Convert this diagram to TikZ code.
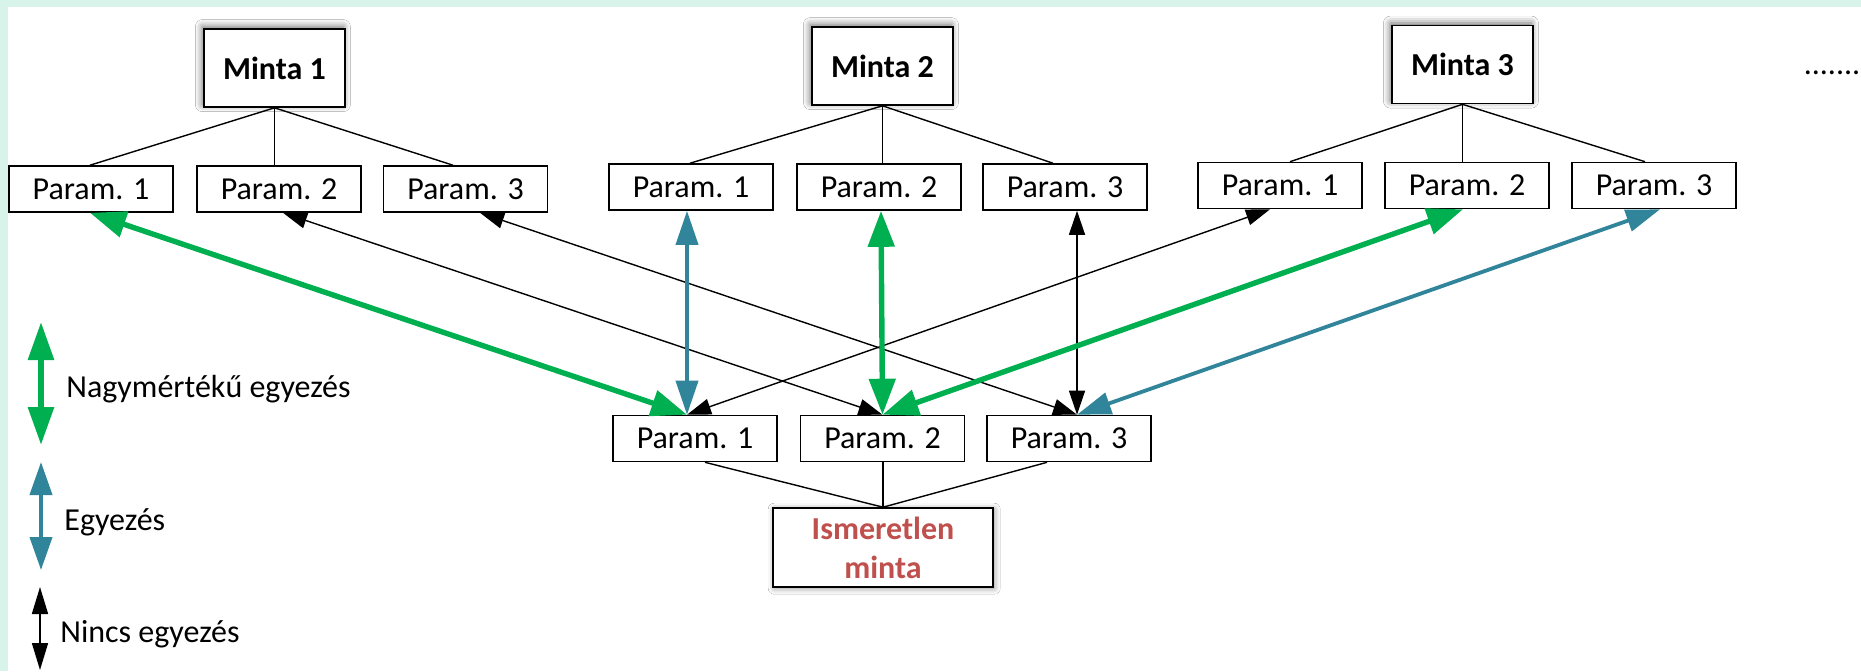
\documentclass[tikz,border=0pt]{standalone}
\usepackage{fontspec}
\setmainfont{Carlito}
\usetikzlibrary{arrows.meta,calc,shadows.blur}
\definecolor{mgreen}{RGB}{0,176,80}
\definecolor{mblue}{RGB}{49,133,155}
\definecolor{mred}{RGB}{192,80,77}
\definecolor{mint}{RGB}{216,243,234}
\begin{document}
\begin{tikzpicture}[x=0.5pt,y=-0.5pt,
  box/.style={draw=black, line width=0.8pt, fill=white, inner sep=0pt,
    font=\fontsize{16}{19.5}\selectfont},
  parbox/.style={box, minimum width=82pt, minimum height=23pt},
  minta/.style={box, minimum width=70.5pt, minimum height=39pt,
    font=\fontsize{16}{19.5}\selectfont\bfseries,
    blur shadow={shadow xshift=-0.8pt, shadow yshift=1.2pt, shadow blur radius=3.5pt, shadow opacity=60}},
  unkbox/.style={box, minimum width=110pt, minimum height=39.5pt, align=center,
    text=mred, font=\fontsize{16}{19.5}\selectfont\bfseries,
    blur shadow={shadow xshift=0.6pt, shadow yshift=-0.6pt, shadow blur radius=3pt, shadow opacity=45}},
  link/.style={line width=0.7pt},
  strong/.style={mgreen, line width=2.7pt, {Triangle[length=18pt,width=13pt]}-{Triangle[length=18pt,width=13pt]}},
  medium/.style={mblue, line width=1.9pt, {Triangle[length=17pt,width=11pt]}-{Triangle[length=17pt,width=11pt]}},
  weak/.style={black, line width=0.7pt, {Triangle[length=12pt,width=8pt]}-{Triangle[length=12pt,width=8pt]}},
  legtext/.style={anchor=base west, inner sep=0pt, font=\fontsize{16}{19.5}\selectfont}
]
\useasboundingbox (0,0) rectangle (1861,671);
% background
\fill[mint] (0,0) rectangle (1861,671);
\fill[white] (8,7) rectangle (1861,671);

% top nodes
\node[minta] (ma) at (274.5,68) {Minta 1};
\node[minta] (mb) at (882.5,66) {Minta 2};
\node[minta] (mc) at (1462.5,64.5) {Minta 3};

\node[parbox] (a1) at (91,189) {Param. 1};
\node[parbox] (a2) at (279,189) {Param. 2};
\node[parbox] (a3) at (465.5,189) {Param. 3};
\node[parbox] (b1) at (691,187) {Param. 1};
\node[parbox] (b2) at (879,187) {Param. 2};
\node[parbox] (b3) at (1065,187) {Param. 3};
\node[parbox] (c1) at (1280,185.5) {Param. 1};
\node[parbox] (c2) at (1467,185.5) {Param. 2};
\node[parbox] (c3) at (1654,185.5) {Param. 3};

\node[parbox] (u1) at (695,438.5) {Param. 1};
\node[parbox] (u2) at (882.5,438.5) {Param. 2};
\node[parbox] (u3) at (1069,438.5) {Param. 3};
\node[unkbox] (uk) at (883,547.5) {Ismeretlen\\minta};

\node[anchor=base, inner sep=0pt, font=\fontsize{16}{19.5}\selectfont] (dots) at (1832,74) {.......};

% tree lines
\draw[link] (ma.south) -- ($(a1.north)+(-1,0)$);
\draw[link] (ma.south) -- (ma.south |- a2.north);
\draw[link] (ma.south) -- ($(a3.north)+(-12.5,0)$);
\draw[link] (mb.south) -- ($(b1.north)+(-1,0)$);
\draw[link] (mb.south) -- (mb.south |- b2.north);
\draw[link] (mb.south) -- ($(b3.north)+(-12,0)$);
\draw[link] (mc.south) -- ($(c1.north)+(10,0)$);
\draw[link] (mc.south) -- (mc.south |- c2.north);
\draw[link] (mc.south) -- ($(c3.north)+(-9,0)$);
\draw[link] (uk.north) -- ($(u1.south)+(10,0)$);
\draw[link] (uk.north) -- (uk.north |- u2.south);
\draw[link] (uk.north) -- ($(u3.south)+(-22,0)$);

% comparison arrows
\draw[weak] ($(a2.south)+(4,0)$) -- (u2.north);
\draw[weak] ($(a3.south)+(14.5,0)$) -- ($(u3.north)+(8,0)$);
\draw[weak] ($(c1.south)+(-10,0)$) -- ($(u1.north)+(-8,0)$);
\draw[weak] ($(b3.south)+(12,0)$) -- ($(u3.north)+(8,0)$);
\draw[medium] ($(b1.south)+(-4,0)$) -- ($(u1.north)+(-8,0)$);
\draw[medium] ($(c3.south)+(6,0)$) -- ($(u3.north)+(8,0)$);
\draw[strong] ($(a1.south)+(-1,0)$) -- ($(u1.north)+(-8,0)$);
\draw[strong] ($(b2.south)+(2,0)$) -- (u2.north);
\draw[strong] ($(c2.south)+(-4,0)$) -- (u2.north);

% legend
\coordinate (lg1) at (41,322);
\coordinate (lg2) at (41,445);
\coordinate (lb1) at (41,462);
\coordinate (lb2) at (41,570);
\coordinate (lk1) at (40,587);
\coordinate (lk2) at (40,670);
\draw[mgreen, line width=3pt, {Triangle[length=19pt,width=12.5pt]}-{Triangle[length=19pt,width=12.5pt]}] (lg1) -- (lg2);
\draw[mblue, line width=2pt, {Triangle[length=16.5pt,width=11pt]}-{Triangle[length=16.5pt,width=11pt]}] (lb1) -- (lb2);
\draw[black, line width=0.8pt, {Triangle[length=13.5pt,width=8pt]}-{Triangle[length=13.5pt,width=8pt]}] (lk1) -- (lk2);
\node[legtext] (t1) at (66,397) {Nagymértékű egyezés};
\node[legtext] (t2) at (64,530) {Egyezés};
\node[legtext] (t3) at (60,642) {Nincs egyezés};
\end{tikzpicture}
\end{document}
